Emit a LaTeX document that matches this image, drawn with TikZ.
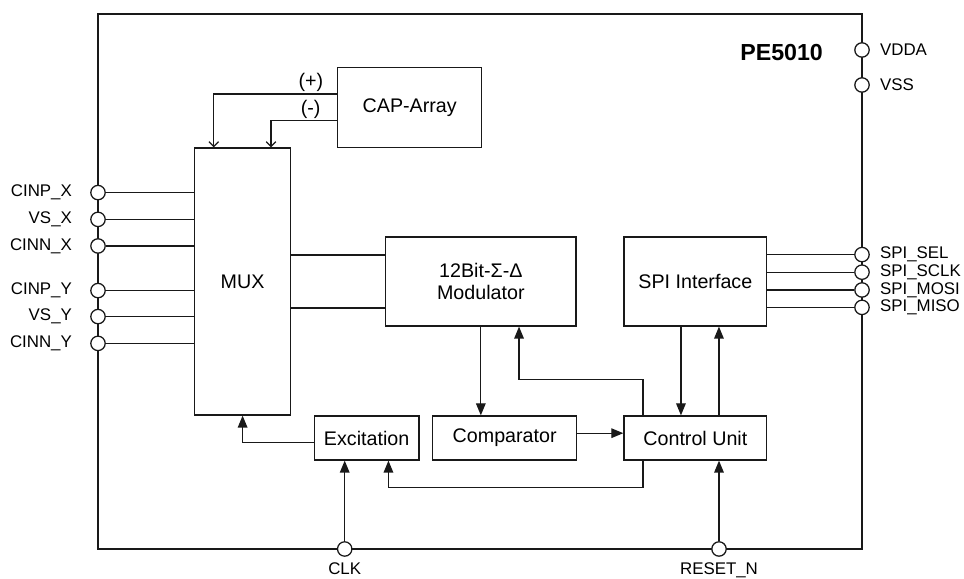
\documentclass[tikz,border=0pt]{standalone}
\usepackage{fontspec}
\setmainfont{Liberation Sans}
\usepackage{tikz}
\usetikzlibrary{arrows.meta, positioning, calc}
\definecolor{chipline}{RGB}{25, 25, 25}
\tikzset{
    block/.style={rectangle, draw=chipline, line width=0.9pt, fill=white, inner sep=0pt, align=center, font=\fontsize{14}{16}\selectfont},
    pin/.style={circle, draw=chipline, line width=0.9pt, fill=white, minimum size=0.36cm, inner sep=0pt},
    pinlabel/.style={inner sep=0pt, font=\fontsize{12}{14}\selectfont},
    wire/.style={draw=chipline, line width=0.9pt}
}

\begin{document}
\begin{tikzpicture}[
    node distance=0.45cm,
    arrow/.style={wire, -{Triangle[length=0.3cm, width=0.24cm]}},
    openarrow/.style={wire, -{Straight Barb[length=0.12cm, width=0.24cm]}},
    polarity/.style={inner sep=1pt, font=\fontsize{14}{16}\selectfont}
]
    \useasboundingbox (0,0) rectangle (24.1,14.475);

    % --- CHIP OUTLINE ---
    \draw[wire] (2.45,0.75) rectangle (21.55,14.125);
    \node[font=\bfseries\fontsize{16.5}{18}\selectfont] (chipname) at (19.54,13.15) {PE5010};

    % --- BLOCKS ---
    \node[block, minimum width=2.4cm, minimum height=6.675cm] (mux) at (6.065,7.4375) {MUX};
    \node[block, minimum width=3.6cm, minimum height=2cm] (cap) at (10.2425,11.79) {CAP-Array};
    \node[block, minimum width=4.76cm, minimum height=2.225cm] (mod) at (12.021,7.4375) {12Bit-Σ-Δ\\Modulator};
    \node[block, minimum width=3.57cm, minimum height=2.225cm] (spi) at (17.384,7.4375) {SPI Interface};
    \node[block, minimum width=2.62cm, minimum height=1.1cm] (exc) at (9.166,3.525) {Excitation};
    \node[block, minimum width=3.6cm, minimum height=1.1cm] (cmp) at (12.6175,3.525) {Comparator};
    \node[block, minimum width=3.57cm, minimum height=1.1cm] (cu) at (17.384,3.525) {Control Unit};

    % --- LEFT PINS ---
    \foreach \pinname/\ypos/\pintext in {cinpx/9.66/CINP\_X, vsx/8.99/VS\_X, cinnx/8.325/CINN\_X,
                                         cinpy/7.21/CINP\_Y, vsy/6.56/VS\_Y, cinny/5.89/CINN\_Y} {
        \node[pin] (\pinname) at (2.45,\ypos) {};
        \draw[wire] (\pinname.east) -- (\pinname -| mux.west);
        \node[pinlabel, left=of \pinname] {\pintext};
    }

    % --- RIGHT PINS ---
    \node[pin] (vdda) at (21.55,13.225) {};
    \node[pinlabel, right=0.25cm of vdda] {VDDA};
    \node[pin] (vss) at (21.55,12.35) {};
    \node[pinlabel, right=0.25cm of vss] {VSS};
    \foreach \pinname/\ypos/\pintext in {spisel/8.11/SPI\_SEL, spisclk/7.67/SPI\_SCLK,
                                         spimosi/7.225/SPI\_MOSI, spimiso/6.79/SPI\_MISO} {
        \node[pin] (\pinname) at (21.55,\ypos) {};
        \draw[wire] (\pinname -| spi.east) -- (\pinname.west);
        \node[pinlabel, right=0.25cm of \pinname] {\pintext};
    }

    % --- BOTTOM PINS ---
    \node[pin] (clk) at (8.6175,0.75) {};
    \node[pinlabel, below=0.13cm of clk] {CLK};
    \node[pin] (rstn) at (17.975,0.75) {};
    \node[pinlabel, below=0.13cm of rstn] {RESET\_N};

    % --- CONNECTIONS ---
    % CAP-Array to MUX
    \draw[openarrow] ([yshift=0.335cm]cap.west) -| ([xshift=-0.72cm]mux.north)
        node[polarity, pos=0.106, above] {(+)};
    \draw[openarrow] ([yshift=-0.335cm]cap.west) -| ([xshift=0.71cm]mux.north)
        node[polarity, pos=0.2, above] {(-)};
    % MUX to modulator
    \draw[wire] ([yshift=0.66cm]mux.east) -- ([yshift=0.66cm]mod.west);
    \draw[wire] ([yshift=-0.66cm]mux.east) -- ([yshift=-0.66cm]mod.west);
    % modulator, comparator, control unit
    \draw[arrow] (mod.south) -- (mod.south |- cmp.north);
    \draw[arrow] ([yshift=0.12cm]cmp.east) -- ([yshift=0.12cm]cu.west);
    \draw[arrow] ([xshift=-1.31cm]cu.north) -- ++(0,0.9) -| ([xshift=0.955cm]mod.south);
    % SPI interface and control unit
    \draw[arrow] ([xshift=-0.36cm]spi.south) -- ([xshift=-0.36cm]cu.north);
    \draw[arrow] ([xshift=0.59cm]cu.north) -- ([xshift=0.59cm]spi.south);
    % excitation
    \draw[arrow] ([xshift=-1.31cm]cu.south) -- ++(0,-0.665) -| ([xshift=0.545cm]exc.south);
    \draw[arrow] ([yshift=-0.11cm]exc.west) -| (mux.south);
    % clock and reset
    \draw[arrow] (clk.north) -- (clk |- exc.south);
    \draw[arrow] (rstn.north) -- (rstn |- cu.south);
\end{tikzpicture}
\end{document}
